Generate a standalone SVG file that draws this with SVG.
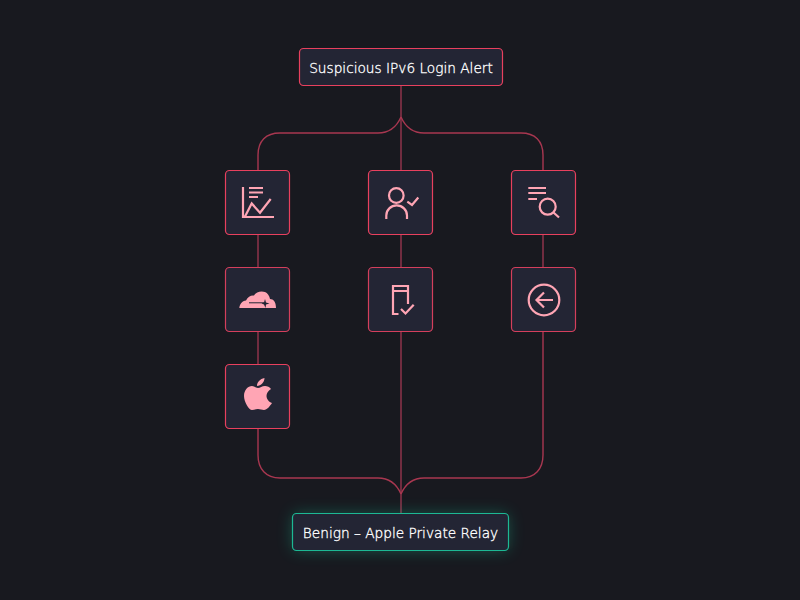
<svg xmlns="http://www.w3.org/2000/svg" width="800" height="600" viewBox="0 0 800 600">
<style>
.n{fill:#232534;stroke:#e8405e;stroke-width:1.2}
.d{stroke:#d43f5c}
.c{fill:none;stroke:#803146;stroke-width:1.7}
.b{fill:none;stroke:#a83750;stroke-width:1.4}
.i{fill:none;stroke:#ffa5b4;stroke-width:2.2}
.f{fill:#ffa5b4}
text{font-family:"DejaVu Sans",sans-serif;font-size:13.7px;font-weight:200;fill:#fff;stroke:#fff;stroke-width:.32;text-anchor:middle}
</style>
<defs>
<filter id="glow" x="-20%" y="-80%" width="140%" height="260%"><feGaussianBlur stdDeviation="8"/></filter>
</defs>
<rect width="800" height="600" fill="#18191f"/>
<g id="connectors">
<path class="c" d="M401 85V170M401 235V267M401 332V514"/>
<path class="c" d="M258 235V267M258 332V364M543 235V267"/>
<path class="b" d="M401 117C397 126 390 133 378 133H280C266 133 258 141 258 155V170"/>
<path class="b" d="M401 117C405 126 412 133 424 133H521C535 133 543 141 543 155V170"/>
<path class="b" d="M258 429V455C258 469 266 478 280 478H378C390 478 397 485 401 494"/>
<path class="b" d="M543 332V455C543 469 535 478 521 478H424C412 478 405 485 401 494"/>
</g>
<g id="n-alert"><rect class="n" x="299.500" y="48.500" width="203" height="37" rx="4"/><text x="401" y="72.500">Suspicious IPv6 Login Alert</text></g>
<g id="n-chart"><rect class="n" x="225.500" y="170.500" width="64" height="64" rx="4"/>
<path class="i" d="M243 187V217H274M245 216.500L251.700 203.500L260 212.700L270.700 199"/><path class="i" d="M249 188H263M249 192.500H263M249 197H258"/></g>
<g id="n-user"><rect class="n" x="368.500" y="170.500" width="64" height="64" rx="4"/>
<circle class="i" cx="396.300" cy="195.500" r="7.300"/><path class="i" d="M386.300 219V215.500A10.300 10 0 0 1 407 215.500V219M407.300 201.700L412 205L418.300 197.500"/></g>
<g id="n-search"><rect class="n" x="511.500" y="170.500" width="64" height="64" rx="4"/>
<path class="i" d="M528.300 188H546M528.300 193H546M528.300 199H537"/><circle class="i" cx="547.700" cy="206.700" r="8"/><path class="i" d="M553.500 212.500L559 217.500"/></g>
<g id="n-cloudflare"><rect class="n d" x="225.500" y="267.500" width="64" height="64" rx="4"/>
<path class="f" d="M239.300 308C239.800 304 242 301 246 300.500C248 296.500 251 295 254 295.500C256 292 261 290.500 265 292C267.500 293 269.500 296 270 299C273.500 299 276 302 276 308Z"/>
<path d="M249 302.800H264" stroke="#232534" stroke-width="1" fill="none"/><path d="M265 299L266 302.500L269.500 303.500L266 304.500L265.500 308L264 304.500L261.500 303.500L264 302.500Z" fill="#232534"/></g>
<g id="n-device"><rect class="n d" x="368.500" y="267.500" width="64" height="64" rx="4"/>
<path class="i" d="M408 304V286H393V314H398.500M393 291H408"/><path class="i" d="M401 309L405.500 313.500L413.700 304.700"/></g>
<g id="n-back"><rect class="n d" x="511.500" y="267.500" width="64" height="64" rx="4"/>
<circle class="i" cx="544" cy="300" r="15.300"/><path class="i" d="M553 300H536.500M544 292.500L536.500 300L544 307.500"/></g>
<g id="n-apple"><rect class="n" x="225.500" y="364.500" width="64" height="64" rx="4"/>
<path class="f" d="M264.500 378C264.500 382 261 386 257 386C257 382 260 379 264.500 378ZM252 386C254 386 256 388 258 388C260 388 262 386 265 386C267 386 270 387 271 389C268 391 266.500 393 266.500 396C266.500 399 269 402 272 403C270 406 267 410 264 410C262 410 260 409 258 409C256 409 254 410 252 410C249 410 244 402 244 396C244 390 248 386 252 386Z"/></g>
<g id="n-benign">
<rect x="293" y="514" width="215" height="36" rx="4" fill="#12c89a" opacity=".35" filter="url(#glow)"/>
<rect x="292.500" y="513.500" width="216" height="37" rx="4" fill="#232534" stroke="#1db894" stroke-width="1.2"/><text x="400.500" y="537.500">Benign – Apple Private Relay</text></g>
</svg>
